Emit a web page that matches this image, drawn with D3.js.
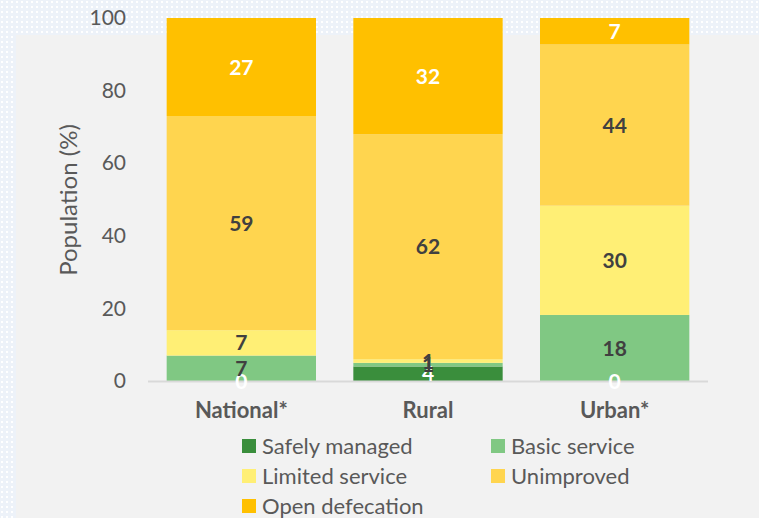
<!DOCTYPE html>
<meta charset="utf-8">
<style>
  body { margin: 0; }
  svg { display: block; font-family: Lato, "Open Sans", sans-serif; }
</style>
<svg width="759" height="518"></svg>
<script src="https://cdn.jsdelivr.net/npm/d3@7"></script>
<script>
var areas = ["National*", "Rural", "Urban*"];
var services = ["Safely managed", "Basic service", "Limited service", "Unimproved", "Open defecation"];
var colors = ["#3a8e3c", "#80c883", "#ffef75", "#ffd54f", "#ffc000"];
var labelColors = ["#ffffff", "#404040", "#404040", "#404040", "#ffffff"];
// percent of population, per service level
var safelyManaged = [0, 4, 0];
var basicService = [7, 1, 18.2];
var limitedService = [7, 1, 30.1];
var unimproved = [59, 62, 44.4];
var openDefecation = [27, 32, 7.3];
var yTicks = [0, 20, 40, 60, 80, 100];

var svg = d3.select("svg");

// dotted page background
var defs = svg.append("defs");
var pat = defs.append("pattern").attr("id", "dots")
    .attr("width", 5).attr("height", 5).attr("patternUnits", "userSpaceOnUse");
pat.append("rect").attr("width", 5).attr("height", 5).attr("fill", "#edf2f9");
pat.append("rect").attr("x", 1).attr("y", 1).attr("width", 2).attr("height", 2).attr("fill", "#ffffff");
svg.append("rect").attr("width", 759).attr("height", 518).attr("fill", "url(#dots)");
svg.append("rect").attr("x", 16).attr("y", 35).attr("width", 743).attr("height", 483).attr("fill", "#f2f2f2");

var rows = areas.map(function(a, i) {
  return {
    area: a,
    "Safely managed": safelyManaged[i],
    "Basic service": basicService[i],
    "Limited service": limitedService[i],
    "Unimproved": unimproved[i],
    "Open defecation": openDefecation[i]
  };
});

var x = d3.scaleBand().domain(areas).range([148, 708]).paddingInner(0.2).paddingOuter(0.1);
var y = d3.scaleLinear().domain([0, 100]).range([381, 18]);

var stack = d3.stack().keys(services)(rows);

// y axis labels
var ya = svg.append("g").attr("transform", "translate(126,0)")
    .call(d3.axisLeft(y).tickValues(yTicks).tickSize(0).tickPadding(0));
ya.select(".domain").remove();
ya.selectAll("text").attr("font-size", 21).attr("fill", "#595959").attr("font-family", "Lato, sans-serif");

svg.append("text")
    .attr("transform", "translate(77,200) rotate(-90)")
    .attr("text-anchor", "middle")
    .attr("font-size", 24)
    .attr("fill", "#595959")
    .text("Population (%)");

// bars
var layers = svg.append("g").selectAll("g").data(stack).join("g")
    .attr("fill", function(d, i) { return colors[i]; });
layers.selectAll("rect").data(function(d) { return d; }).join("rect")
    .attr("x", function(d) { return x(d.data.area); })
    .attr("width", x.bandwidth())
    .attr("y", function(d) { return y(d[1]); })
    .attr("height", function(d) { return y(d[0]) - y(d[1]); });

// baseline
svg.append("line").attr("x1", 148).attr("x2", 708).attr("y1", 381.5).attr("y2", 381.5)
    .attr("stroke", "#d9d9d9").attr("stroke-width", 2);

// segment labels
var lab = svg.append("g").selectAll("g").data(stack).join("g")
    .attr("fill", function(d, i) { return labelColors[i]; });
lab.selectAll("text").data(function(d) { return d; }).join("text")
    .attr("x", function(d) { return x(d.data.area) + x.bandwidth() / 2; })
    .attr("y", function(d) { return y((d[0] + d[1]) / 2); })
    .attr("dy", "0.36em")
    .attr("text-anchor", "middle")
    .attr("font-size", 21)
    .attr("font-weight", "bold")
    .text(function(d) { return Math.round(d[1] - d[0]); });

// category labels
var xa = svg.append("g").attr("transform", "translate(0,381)")
    .call(d3.axisBottom(x).tickSize(0).tickPadding(21));
xa.select(".domain").remove();
xa.selectAll("text").attr("font-size", 22).attr("font-weight", "bold")
    .attr("fill", "#595959").attr("font-family", "Lato, sans-serif");

// legend
var leg = svg.append("g").selectAll("g").data(services).join("g")
    .attr("transform", function(d, i) {
      return "translate(" + (242 + (i % 2) * 249) + "," + (446 + Math.floor(i / 2) * 30) + ")";
    });
leg.append("rect").attr("y", -7).attr("width", 14).attr("height", 14)
    .attr("fill", function(d, i) { return colors[i]; });
leg.append("text").attr("x", 20).attr("dy", "0.35em")
    .attr("font-size", 22).attr("fill", "#595959")
    .text(function(d) { return d; });
</script>
